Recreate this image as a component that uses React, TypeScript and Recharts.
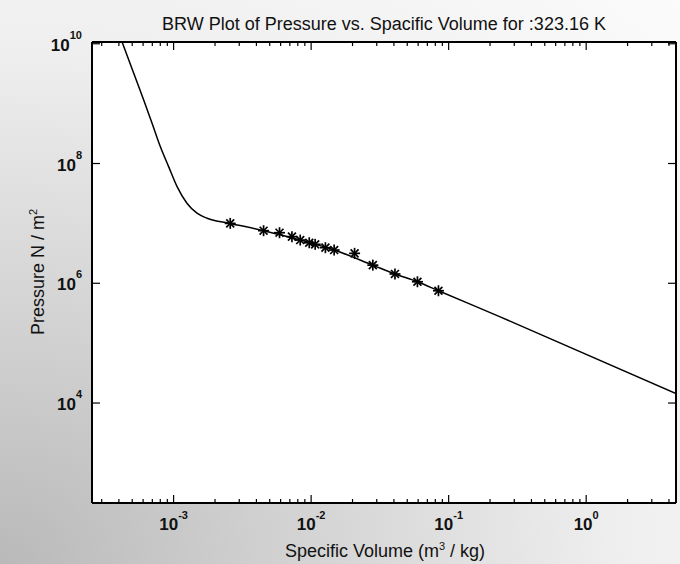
import React from 'react';
import { LineChart, Line, XAxis, YAxis, CartesianGrid } from 'recharts';

// BRW fitted curve (m^3/kg, N/m^2)
const curveVolume = [
  4.22e-4, 5.12e-4, 6.05e-4, 6.97e-4, 8.0e-4, 9.2e-4, 1.06e-3, 1.25e-3, 1.48e-3, 1.75e-3,
  2.58e-3, 4.51e-3, 8.33e-3, 1.47e-2, 2.81e-2, 4.07e-2, 5.93e-2, 8.43e-2, 0.237, 4.5,
];
const curvePressure = [
  1.07e10, 3.24e9, 1.16e9, 4.72e8, 1.92e8, 8.87e7, 4.11e7, 2.17e7, 1.48e7, 1.22e7,
  1.0e7, 7.55e6, 5.27e6, 3.59e6, 2.01e6, 1.43e6, 1.06e6, 7.5e5, 2.75e5, 1.44e4,
];

// measured points (asterisks)
const pointVolume = [
  2.58e-3, 4.51e-3, 5.89e-3, 7.25e-3, 8.33e-3, 9.69e-3, 1.07e-2, 1.27e-2, 1.47e-2,
  2.07e-2, 2.81e-2, 4.07e-2, 5.93e-2, 8.43e-2,
];
const pointPressure = [
  1.0e7, 7.55e6, 6.99e6, 6.0e6, 5.27e6, 4.75e6, 4.47e6, 3.93e6, 3.59e6,
  3.16e6, 2.01e6, 1.43e6, 1.06e6, 7.5e5,
];

const volumeDecades = [1e-4, 1e-3, 1e-2, 1e-1, 1];
const volumeExponents = ['-4', '-3', '-2', '-1', '0'];
const pressureTicks = [1e4, 1e6, 1e8, 1e10];
const pressureExponents = ['4', '6', '8', '10'];

const xDomain = [2.55e-4, 4.5];
const yDomain = [214, 1.07e10];

const curve = curveVolume.map((v, i) => ({ v, p: curvePressure[i] }));
const points = pointVolume.map((v, i) => ({ v, p: pointPressure[i] }));

const volumeTicks = volumeDecades
  .flatMap((d) => [1, 2, 3, 4, 5, 6, 7, 8, 9].map((m) => m * d))
  .filter((t) => t >= xDomain[0] && t <= xDomain[1]);

const FONT = '"Liberation Sans", Arial, Helvetica, sans-serif';

const isDecade = (v: number) => Math.abs(Math.log10(v) - Math.round(Math.log10(v))) < 1e-6;

function xExp(v: number) {
  const i = volumeDecades.findIndex((d) => Math.abs(d - v) / d < 1e-6);
  return i >= 0 ? volumeExponents[i] : '';
}

function yExp(v: number) {
  const i = pressureTicks.findIndex((d) => Math.abs(d - v) / d < 1e-6);
  return i >= 0 ? pressureExponents[i] : '';
}

const BottomTick = (props: any) => {
  const { x, y, payload } = props;
  const major = isDecade(payload.value);
  const len = major ? 8 : 4;
  return (
    <g>
      <line x1={x} y1={y} x2={x} y2={y - len} stroke="#000" strokeWidth={1.2} />
      {major && (
        <text x={x} y={y + 27} textAnchor="middle" fontFamily={FONT} fontSize={17} fontWeight="bold" fill="#111">
          10
          <tspan dy={-11} fontSize={11}>{xExp(payload.value)}</tspan>
        </text>
      )}
    </g>
  );
};

const TopTick = (props: any) => {
  const { x, y, payload } = props;
  const len = isDecade(payload.value) ? 8 : 4;
  return <line x1={x} y1={y} x2={x} y2={y + len} stroke="#000" strokeWidth={1.2} />;
};

const LeftTick = (props: any) => {
  const { x, y, payload } = props;
  return (
    <g>
      <line x1={x} y1={y} x2={x + 8} y2={y} stroke="#000" strokeWidth={1.2} />
      <text x={x - 10} y={y + 7} textAnchor="end" fontFamily={FONT} fontSize={17} fontWeight="bold" fill="#111">
        10
        <tspan dy={-12} fontSize={11}>{yExp(payload.value)}</tspan>
      </text>
    </g>
  );
};

const RightTick = (props: any) => {
  const { x, y } = props;
  return <line x1={x} y1={y} x2={x - 8} y2={y} stroke="#000" strokeWidth={1.2} />;
};

const Star = (props: any) => {
  const { cx, cy } = props;
  if (cx == null || cy == null) return null;
  const r = 5.5;
  const d = r * 0.72;
  return (
    <g stroke="#000" strokeWidth={1.7}>
      <line x1={cx - r} y1={cy} x2={cx + r} y2={cy} />
      <line x1={cx} y1={cy - r} x2={cx} y2={cy + r} />
      <line x1={cx - d} y1={cy - d} x2={cx + d} y2={cy + d} />
      <line x1={cx - d} y1={cy + d} x2={cx + d} y2={cy - d} />
    </g>
  );
};

export default function App() {
  return (
    <div
      style={{
        position: 'absolute',
        left: 0,
        top: 0,
        width: 680,
        height: 564,
        background:
          'radial-gradient(ellipse at 0% 100%, #b9b9b9 0%, #d6d6d6 35%, #efefef 65%, #fbfbfb 100%)',
      }}
    >
      <LineChart width={680} height={564} margin={{ top: 41, right: 3, bottom: 21, left: 0 }}>
        <CartesianGrid fill="#fff" horizontal={false} vertical={false} />
        <XAxis
          dataKey="v"
          type="number"
          scale="log"
          domain={xDomain}
          allowDataOverflow
          ticks={volumeTicks}
          interval={0}
          tickSize={0}
          tickMargin={0}
          tickLine={false}
          tick={<BottomTick />}
          height={40}
          axisLine={{ stroke: '#000', strokeWidth: 2 }}
        />
        <XAxis
          xAxisId="top"
          orientation="top"
          dataKey="v"
          type="number"
          scale="log"
          domain={xDomain}
          allowDataOverflow
          ticks={volumeTicks}
          interval={0}
          tickSize={0}
          tickMargin={0}
          tickLine={false}
          tick={<TopTick />}
          height={1}
          axisLine={{ stroke: '#000', strokeWidth: 2 }}
        />
        <YAxis
          dataKey="p"
          type="number"
          scale="log"
          domain={yDomain}
          allowDataOverflow
          ticks={pressureTicks}
          interval={0}
          tickSize={0}
          tickMargin={0}
          tickLine={false}
          tick={<LeftTick />}
          width={92}
          axisLine={{ stroke: '#000', strokeWidth: 2 }}
        />
        <YAxis
          yAxisId="right"
          orientation="right"
          dataKey="p"
          type="number"
          scale="log"
          domain={yDomain}
          allowDataOverflow
          ticks={pressureTicks}
          interval={0}
          tickSize={0}
          tickMargin={0}
          tickLine={false}
          tick={<RightTick />}
          width={1}
          axisLine={{ stroke: '#000', strokeWidth: 2 }}
        />
        <Line
          data={curve}
          dataKey="p"
          type="monotone"
          stroke="#000"
          strokeWidth={1.5}
          dot={false}
          activeDot={false}
          isAnimationActive={false}
        />
        <Line
          data={points}
          dataKey="p"
          stroke="none"
          dot={<Star />}
          activeDot={false}
          isAnimationActive={false}
        />
        <text x={384} y={30} textAnchor="middle" fontFamily={FONT} fontSize={18} fill="#111">
          BRW Plot of Pressure vs. Spacific Volume for :323.16 K
        </text>
        <text x={385} y={557} textAnchor="middle" fontFamily={FONT} fontSize={18} fill="#111">
          Specific Volume (m<tspan dy={-7} fontSize={11}>3</tspan>
          <tspan dy={7}> / kg)</tspan>
        </text>
        <text
          x={44}
          y={272}
          transform="rotate(-90 44 272)"
          textAnchor="middle"
          fontFamily={FONT}
          fontSize={18}
          fill="#111"
        >
          Pressure N / m<tspan dy={-7} fontSize={11}>2</tspan>
        </text>
      </LineChart>
    </div>
  );
}
